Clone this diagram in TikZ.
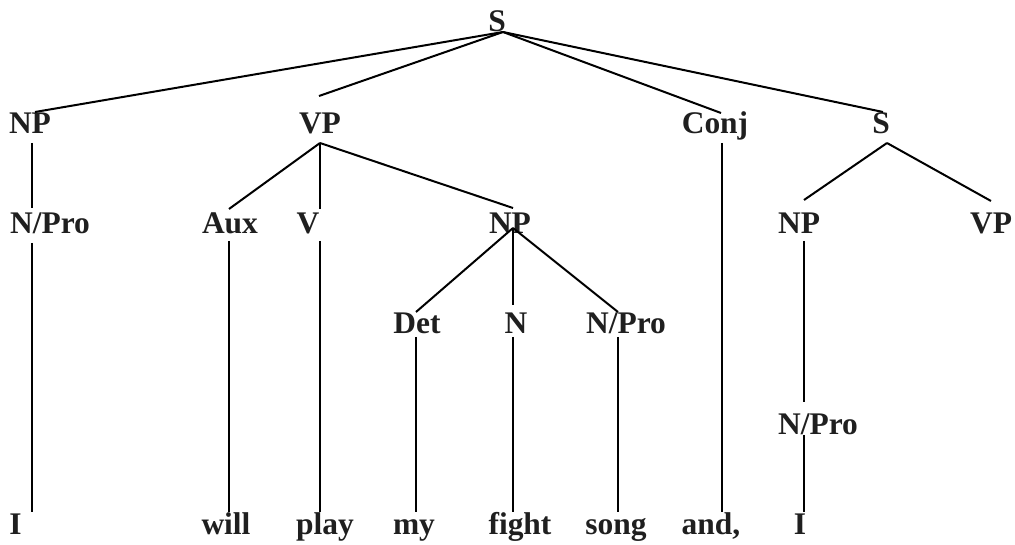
\documentclass[tikz,border=0pt]{standalone}
\usepackage{fontspec}
\setmainfont{Liberation Serif}

\begin{document}
\begin{tikzpicture}[
  x=0.75pt, y=-0.75pt,
  font=\bfseries\fontsize{23.6}{28}\selectfont,
  catnode/.style={anchor=base, inner sep=0pt, text=black!88},
  wordnode/.style={anchor=base, inner sep=0pt, text=black!88},
  branch/.style={draw=black, line width=1.5pt}
]
  \useasboundingbox (0,0) rectangle (1015,545);
  % categories
  \node[catnode] (s0) at (497,32) {S};
  \node[catnode] (np1) at (30,134) {NP};
  \node[catnode] (vp1) at (320,134) {VP};
  \node[catnode] (conj) at (715,134) {Conj};
  \node[catnode] (s1) at (881,134) {S};
  \node[catnode] (npro1) at (50,234) {N/Pro};
  \node[catnode] (aux) at (230,234) {Aux};
  \node[catnode] (v) at (308,234) {V};
  \node[catnode] (np2) at (510,234) {NP};
  \node[catnode] (np3) at (799,234) {NP};
  \node[catnode] (vp3) at (991,234) {VP};
  \node[catnode] (det) at (417,334) {Det};
  \node[catnode] (n) at (516,334) {N};
  \node[catnode] (npro2) at (626,334) {N/Pro};
  \node[catnode] (npro3) at (818,435) {N/Pro};
  % words
  \node[wordnode] (w1) at (15.5,535) {I};
  \node[wordnode] (w2) at (226,535) {will};
  \node[wordnode] (w3) at (325,535) {play};
  \node[wordnode] (w4) at (414,535) {my};
  \node[wordnode] (w5) at (520,535) {fight};
  \node[wordnode] (w6) at (616,535) {song};
  \node[wordnode] (w7) at (711,535) {and,};
  \node[wordnode] (w8) at (800,535) {I};
  % branch ends
  \coordinate (s0-dn) at (503,32);
  \coordinate (np1-up) at (35,112);    \coordinate (np1-dn) at (32,143);
  \coordinate (vp1-up) at (319,96);    \coordinate (vp1-dn) at (320,143);
  \coordinate (conj-up) at (721,113);  \coordinate (conj-dn) at (722,143);
  \coordinate (s1-up) at (883,112);    \coordinate (s1-dn) at (887,143);
  \coordinate (npro1-up) at (32,208);  \coordinate (npro1-dn) at (32,243);
  \coordinate (aux-up) at (229,209);   \coordinate (aux-dn) at (229,241);
  \coordinate (v-up) at (320,209);     \coordinate (v-dn) at (320,241);
  \coordinate (np2-up) at (513,208);   \coordinate (np2-dn) at (513,228);
  \coordinate (np3-up) at (804,200);   \coordinate (np3-dn) at (804,241);
  \coordinate (vp3-up) at (991,201);
  \coordinate (det-up) at (416,312);   \coordinate (det-dn) at (416,337);
  \coordinate (n-up) at (513,305);     \coordinate (n-dn) at (513,337);
  \coordinate (npro2-up) at (618,312); \coordinate (npro2-dn) at (618,337);
  \coordinate (npro3-up) at (804,402); \coordinate (npro3-dn) at (804,435);
  \coordinate (w1-up) at (32,512);
  \coordinate (w2-up) at (229,512);
  \coordinate (w3-up) at (320,512);
  \coordinate (w4-up) at (416,512);
  \coordinate (w5-up) at (513,512);
  \coordinate (w6-up) at (618,512);
  \coordinate (w7-up) at (722,512);
  \coordinate (w8-up) at (804,512);
  % branches
  \draw[branch] (s0-dn) -- (np1-up);
  \draw[branch] (s0-dn) -- (vp1-up);
  \draw[branch] (s0-dn) -- (conj-up);
  \draw[branch] (s0-dn) -- (s1-up);
  \draw[branch] (np1-dn) -- (npro1-up);
  \draw[branch] (vp1-dn) -- (aux-up);
  \draw[branch] (vp1-dn) -- (v-up);
  \draw[branch] (vp1-dn) -- (np2-up);
  \draw[branch] (s1-dn) -- (np3-up);
  \draw[branch] (s1-dn) -- (vp3-up);
  \draw[branch] (np2-dn) -- (det-up);
  \draw[branch] (np2-dn) -- (n-up);
  \draw[branch] (np2-dn) -- (npro2-up);
  \draw[branch] (np3-dn) -- (npro3-up);
  \draw[branch] (npro1-dn) -- (w1-up);
  \draw[branch] (aux-dn) -- (w2-up);
  \draw[branch] (v-dn) -- (w3-up);
  \draw[branch] (det-dn) -- (w4-up);
  \draw[branch] (n-dn) -- (w5-up);
  \draw[branch] (npro2-dn) -- (w6-up);
  \draw[branch] (conj-dn) -- (w7-up);
  \draw[branch] (npro3-dn) -- (w8-up);
\end{tikzpicture}
\end{document}
